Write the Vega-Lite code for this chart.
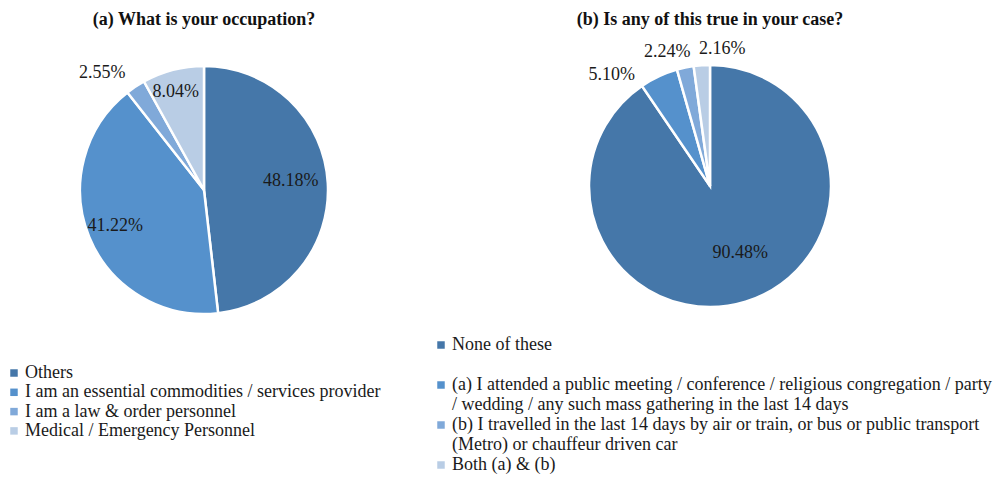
{
  "$schema": "https://vega.github.io/schema/vega-lite/v6.json",
  "padding": {"left": 0, "top": 11, "right": 0, "bottom": 0},
  "background": "white",
  "config": {
    "view": {"stroke": null},
    "font": "Liberation Serif",
    "title": {"font": "Liberation Serif", "fontSize": 18, "fontWeight": "bold", "color": "#111111", "anchor": "middle", "offset": 11},
    "text": {"fontSize": 18, "font": "Liberation Serif", "color": "#1a1a1a"},
    "legend": {
      "labelFont": "Liberation Serif", "labelFontSize": 18, "labelColor": "#1a1a1a",
      "symbolType": "square", "symbolSize": 56, "symbolStrokeWidth": 0,
      "labelLimit": 0, "padding": 0, "labelOffset": 2
    }
  },
  "spacing": 18,
  "resolve": {"scale": {"color": "independent", "theta": "independent"}, "legend": {"color": "independent"}},
  "hconcat": [
    {
      "width": 408, "height": 300,
      "title": "(a) What is your occupation?",
      "data": {"values": [
        {"category": "Others", "share": 0.4818, "rank": 1},
        {"category": "I am an essential commodities / services provider", "share": 0.4122, "rank": 2},
        {"category": "I am a law & order personnel", "share": 0.0255, "rank": 3},
        {"category": "Medical / Emergency Personnel", "share": 0.0804, "rank": 4}
      ]},
      "encoding": {
        "theta": {"field": "share", "type": "quantitative", "stack": true},
        "order": {"field": "rank", "type": "quantitative"}
      },
      "layer": [
        {
          "mark": {"type": "arc", "outerRadius": 124, "stroke": "white", "strokeWidth": 2.5},
          "encoding": {
            "color": {
              "field": "category", "type": "nominal",
              "scale": {"domain": ["Others", "I am an essential commodities / services provider", "I am a law & order personnel", "Medical / Emergency Personnel"],
                        "range": ["#4577A9", "#5591CC", "#80A9D9", "#B9CDE5"]},
              "legend": {"title": null, "orient": "none", "legendX": 5, "legendY": 324, "rowPadding": 1.3}
            }
          }
        },
        {
          "mark": {"type": "text", "radius": 87, "dy": -4},
          "encoding": {"text": {"condition": {"test": "datum.rank == 1", "field": "share", "type": "quantitative", "format": ".2%"}, "value": ""}}
        },
        {
          "mark": {"type": "text", "radius": 96},
          "encoding": {"text": {"condition": {"test": "datum.rank == 2", "field": "share", "type": "quantitative", "format": ".2%"}, "value": ""}}
        },
        {
          "mark": {"type": "text", "radius": 155, "dx": -16, "dy": 12},
          "encoding": {"text": {"condition": {"test": "datum.rank == 3", "field": "share", "type": "quantitative", "format": ".2%"}, "value": ""}}
        },
        {
          "mark": {"type": "text", "radius": 101, "dx": -3},
          "encoding": {"text": {"condition": {"test": "datum.rank == 4", "field": "share", "type": "quantitative", "format": ".2%"}, "value": ""}}
        }
      ]
    },
    {
      "width": 568, "height": 292,
      "title": "(b) Is any of this true in your case?",
      "data": {"values": [
        {"category": "None of these", "share": 0.9048, "rank": 1},
        {"category": "(a) I attended a public meeting / conference / religious congregation / party / wedding / any such mass gathering in the last 14 days", "share": 0.0510, "rank": 2},
        {"category": "(b) I travelled in the last 14 days by air or train, or bus or public transport (Metro) or chauffeur driven car", "share": 0.0224, "rank": 3},
        {"category": "Both (a) & (b)", "share": 0.0216, "rank": 4}
      ]},
      "encoding": {
        "theta": {"field": "share", "type": "quantitative", "stack": true},
        "order": {"field": "rank", "type": "quantitative"}
      },
      "layer": [
        {
          "mark": {"type": "arc", "outerRadius": 121, "stroke": "white", "strokeWidth": 2.5},
          "encoding": {
            "color": {
              "field": "category", "type": "nominal",
              "scale": {"domain": ["None of these", "(a) I attended a public meeting / conference / religious congregation / party / wedding / any such mass gathering in the last 14 days", "(b) I travelled in the last 14 days by air or train, or bus or public transport (Metro) or chauffeur driven car", "Both (a) & (b)"],
                        "range": ["#4577A9", "#5591CC", "#80A9D9", "#B9CDE5"]},
              "legend": {
                "title": null, "orient": "none", "legendX": 6, "legendY": 296, "labelBaseline": "top", "rowPadding": 2,
                "encoding": {"labels": {"dy": {"value": -9}, "lineHeight": {"value": 20}}},
                "labelExpr": "datum.label == 'None of these' ? ['None of these', ''] : indexof(datum.label, '(a) I attended') == 0 ? ['(a) I attended a public meeting / conference / religious congregation / party', '/ wedding / any such mass gathering in the last 14 days'] : indexof(datum.label, '(b) I travelled') == 0 ? ['(b) I travelled in the last 14 days by air or train, or bus or public transport', '(Metro) or chauffeur driven car'] : datum.label"
              }
            }
          }
        },
        {
          "mark": {"type": "text", "radius": 72, "dx": 9, "dy": -2},
          "encoding": {"text": {"condition": {"test": "datum.rank == 1", "field": "share", "type": "quantitative", "format": ".2%"}, "value": ""}}
        },
        {
          "mark": {"type": "text", "radius": 145, "dx": -37, "dy": 20},
          "encoding": {"text": {"condition": {"test": "datum.rank == 2", "field": "share", "type": "quantitative", "format": ".2%"}, "value": ""}}
        },
        {
          "mark": {"type": "text", "radius": 145, "dx": -13, "dy": 8},
          "encoding": {"text": {"condition": {"test": "datum.rank == 3", "field": "share", "type": "quantitative", "format": ".2%"}, "value": ""}}
        },
        {
          "mark": {"type": "text", "radius": 145, "dx": 22, "dy": 8},
          "encoding": {"text": {"condition": {"test": "datum.rank == 4", "field": "share", "type": "quantitative", "format": ".2%"}, "value": ""}}
        }
      ]
    }
  ]
}
